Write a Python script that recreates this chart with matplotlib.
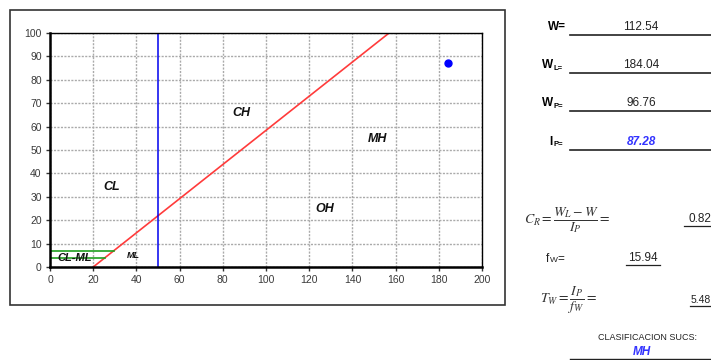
import matplotlib
matplotlib.use("Agg")
import matplotlib.pyplot as plt
from matplotlib.patches import Rectangle
from matplotlib.lines import Line2D

plt.rcParams['font.family'] = ['Liberation Sans', 'DejaVu Sans']
plt.rcParams['mathtext.fontset'] = 'stix'

# data
a_line_ll = [20, 156.99]
a_line_pi = [0, 100]
u_line_ll = [50, 50]
u_line_pi = [0, 100]
clml_pi = [4, 7]
sample_ll = [184.04]
sample_pi = [87.28]
zone_labels = ["CH", "MH", "CL", "OH", "ML", "CL-ML"]
zone_x = [88.5, 151.5, 28.5, 127, 38.5, 11.5]
zone_y = [66, 54.5, 34, 25, 4.8, 3.8]
xticks = list(range(0, 201, 20))
yticks = list(range(0, 101, 10))
param_names = ["W", "W", "W", "I"]
param_subs = ["=", "L=", "P=", "P="]
param_vals = ["112.54", "184.04", "96.76", "87.28"]
cr_val = "0.82"
fw_val = "15.94"
tw_val = "5.48"
clasif = "MH"

fig = plt.figure(figsize=(7.11, 3.6), dpi=100)
W, H = 711, 360

def fx(px): return px / W
def fy(py): return 1 - py / H

# outer box
fig.patches.append(Rectangle((fx(10), fy(305)), (505 - 10) / W, (305 - 10) / H,
                             transform=fig.transFigure, fill=False, edgecolor='#333333', lw=1.2))

ax = fig.add_axes([fx(50), fy(267), (482 - 50) / W, (267 - 33) / H])
ax.set_xlim(0, 200)
ax.set_ylim(0, 100)
ax.set_xticks(xticks)
ax.set_yticks(yticks)
ax.tick_params(labelsize=7.5, length=3, width=1, colors='#333333', pad=3)
for lbl in ax.get_xticklabels() + ax.get_yticklabels():
    lbl.set_color('#3a3a3a')
ax.grid(True, color='#aaaaaa', linestyle=(0, (1.5, 1.0)), lw=1.0)
for s in ['left', 'bottom']:
    ax.spines[s].set_linewidth(1.8)
for s in ['top', 'right']:
    ax.spines[s].set_linewidth(1.0)

ax.plot(a_line_ll, a_line_pi, color='#ff3b3b', lw=1.2, clip_on=True)
ax.plot(u_line_ll, u_line_pi, color='#0000ee', lw=1.1)
for pi in clml_pi:
    ll_end = 20 + pi / 0.73
    ax.plot([0, ll_end], [pi, pi], color='#1e9e1e', lw=1.2)
ax.plot(sample_ll, sample_pi, 'o', color='#0000ff', ms=5)

sizes = [9, 9, 9, 9, 6.5, 8]
for lab, x, y, s in zip(zone_labels, zone_x, zone_y, sizes):
    ax.text(x, y, lab, fontsize=s, fontweight='bold', fontstyle='italic',
            ha='center', va='center', color='#111111')

# right-side parameters
rows_y = [27, 65, 103, 142]
for i, (n, sub, v, y) in enumerate(zip(param_names, param_subs, param_vals, rows_y)):
    if sub == "=":
        fig.text(fx(566), fy(y), n + "=", fontsize=8.5, fontweight='bold', ha='right', va='center')
    else:
        fig.text(fx(553), fy(y), n, fontsize=8.5, fontweight='bold', ha='right', va='center')
        fig.text(fx(553), fy(y + 3), sub, fontsize=5.5, fontweight='bold', ha='left', va='center')
    fig.lines.append(Line2D([fx(570), fx(711)], [fy(y + 8), fy(y + 8)], transform=fig.transFigure,
                            color='#222222', lw=1.2))
    if i == 3:
        fig.text(fx(641), fy(y), v, fontsize=8.5, fontweight='bold', fontstyle='italic',
                 color='#3333ff', ha='center', va='center')
    else:
        fig.text(fx(641), fy(y), v, fontsize=8.5, ha='center', va='center', color='#222222')

fig.text(fx(524), fy(220), r"$C_R=\dfrac{W_L-W}{I_P}=$", fontsize=10, ha='left', va='center',
         color='#333333')
fig.text(fx(711), fy(219), cr_val, fontsize=8.5, ha='right', va='center', color='#222222')
fig.lines.append(Line2D([fx(684), fx(711)], [fy(226), fy(226)], transform=fig.transFigure,
                        color='#222222', lw=0.9))

fig.text(fx(546), fy(259), "f", fontsize=8.5, ha='left', va='center', color='#222222')
fig.text(fx(550), fy(261), "W", fontsize=6, ha='left', va='center', color='#222222')
fig.text(fx(557), fy(259), "=", fontsize=8.5, ha='left', va='center', color='#222222')
fig.text(fx(643), fy(258), fw_val, fontsize=8.5, ha='center', va='center', color='#222222')
fig.lines.append(Line2D([fx(626), fx(660)], [fy(265), fy(265)], transform=fig.transFigure,
                        color='#222222', lw=0.9))

fig.text(fx(540), fy(300), r"$T_W=\dfrac{I_P}{f_W}=$", fontsize=10, ha='left', va='center',
         color='#333333')
fig.text(fx(711), fy(300), tw_val, fontsize=7.5, ha='right', va='center', color='#222222')
fig.lines.append(Line2D([fx(690), fx(711)], [fy(306), fy(306)], transform=fig.transFigure,
                        color='#222222', lw=0.9))

fig.text(fx(648), fy(337), "CLASIFICACION SUCS:", fontsize=6.5, ha='center', va='center',
         color='#222222')
fig.text(fx(642), fy(352), clasif, fontsize=8.5, fontweight='bold', fontstyle='italic',
         color='#3333ff', ha='center', va='center')
fig.lines.append(Line2D([fx(570), fx(711)], [fy(358.5), fy(358.5)], transform=fig.transFigure,
                        color='#222222', lw=1.0))

fig.savefig("out.png", dpi=100)
